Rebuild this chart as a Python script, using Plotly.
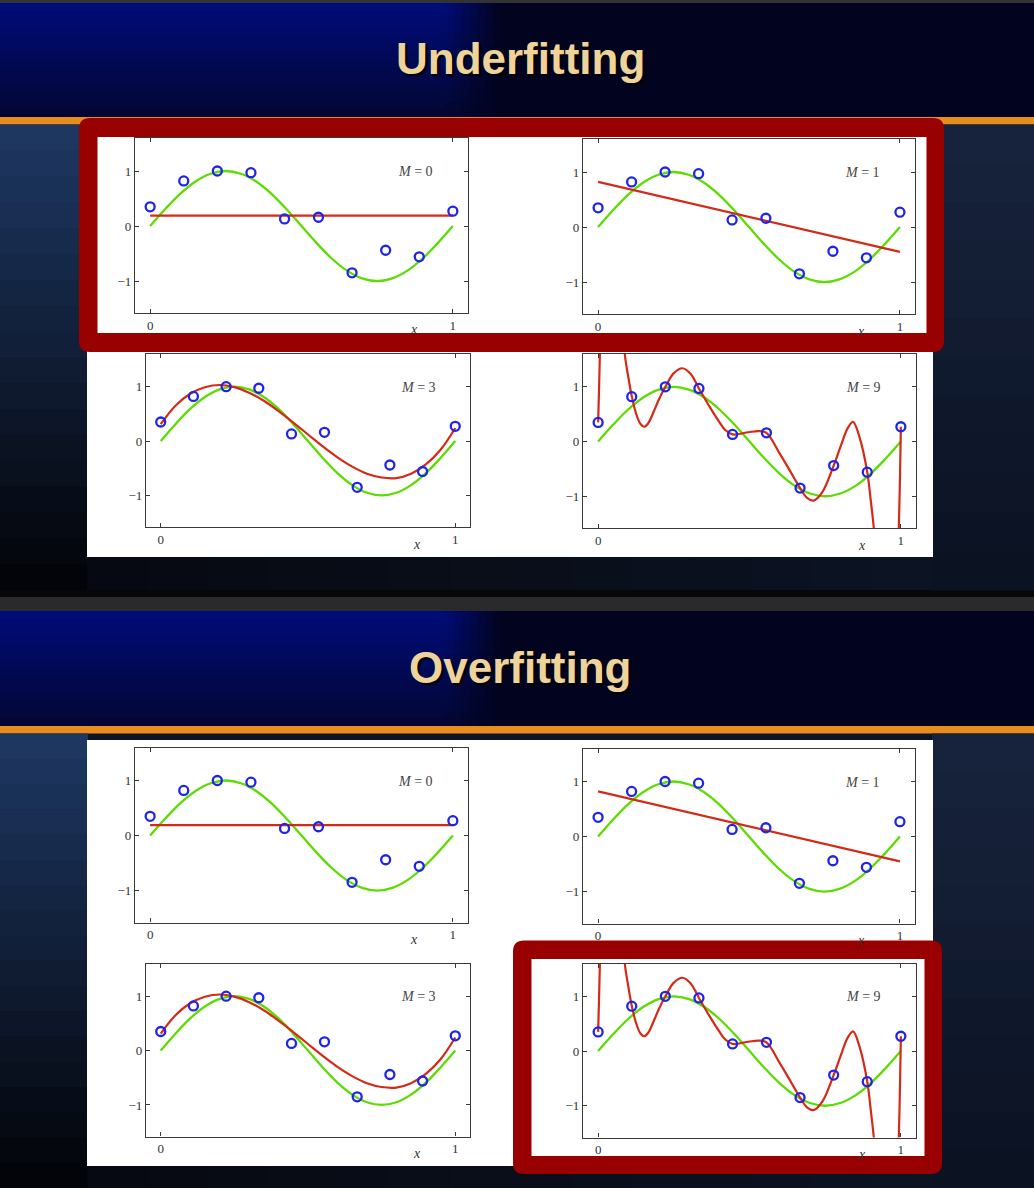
import plotly.graph_objects as go

W, H = 1034, 1188

# %% Data

# noisy observations (blue circles)
x_obs = [0.0, 0.111, 0.222, 0.333, 0.444, 0.556, 0.667, 0.778, 0.889, 1.0]
t_obs = [0.35, 0.82, 1.00, 0.97, 0.13, 0.16, -0.85, -0.44, -0.56, 0.27]

# underlying curve (green)
x_true = [0.0, 0.05, 0.1, 0.15, 0.2, 0.25, 0.3, 0.35, 0.4, 0.45, 0.5,
          0.55, 0.6, 0.65, 0.7, 0.75, 0.8, 0.85, 0.9, 0.95, 1.0]
t_true = [0.0, 0.31, 0.59, 0.81, 0.95, 1.0, 0.95, 0.81, 0.59, 0.31, 0.0,
          -0.31, -0.59, -0.81, -0.95, -1.0, -0.95, -0.81, -0.59, -0.31, 0.0]

# fitted polynomials (red)
x_m0 = [0.0, 1.0]
t_m0 = [0.19, 0.19]

x_m1 = [0.0, 1.0]
t_m1 = [0.82, -0.45]

x_m3 = x_true
t_m3 = [0.31, 0.65, 0.87, 0.99, 1.03, 0.99, 0.89, 0.74, 0.55, 0.34, 0.12,
        -0.10, -0.30, -0.47, -0.60, -0.67, -0.68, -0.60, -0.43, -0.16, 0.24]

x_m9 = [0.0, 0.003, 0.006, 0.012, 0.075, 0.089, 0.100, 0.111, 0.126, 0.140,
        0.152, 0.165, 0.183, 0.200, 0.222, 0.250, 0.278, 0.305, 0.333, 0.370,
        0.400, 0.420, 0.444, 0.496, 0.530, 0.556, 0.600, 0.630, 0.667, 0.690,
        0.712, 0.740, 0.778, 0.801, 0.824, 0.842, 0.865, 0.889, 0.900, 0.911,
        0.925, 0.985, 0.993, 1.0]
t_m9 = [0.35, 0.95, 1.65, 2.6, 2.6, 1.55, 1.17, 0.83, 0.50, 0.32,
        0.27, 0.33, 0.54, 0.76, 1.00, 1.25, 1.34, 1.24, 0.97, 0.62,
        0.36, 0.21, 0.13, 0.17, 0.19, 0.16, -0.22, -0.50, -0.85, -1.03,
        -1.08, -0.93, -0.44, -0.09, 0.24, 0.36, 0.05, -0.56, -1.05, -1.6,
        -2.6, -2.6, -1.6, 0.27]

m_labels = ['0', '1', '3', '9']
fits = [(x_m0, t_m0), (x_m1, t_m1), (x_m3, t_m3), (x_m9, t_m9)]
slide_titles = ['Underfitting', 'Overfitting']

# %% Helpers (pixel -> paper)

def px(x):
    return x / W

def py(y):
    return 1 - y / H

def mix(c0, c1, f):
    return 'rgb(%d,%d,%d)' % tuple(round(a + (b - a) * f) for a, b in zip(c0, c1))

def rect(x0, x1, y0, y1, color, layer='below'):
    return dict(type='rect', xref='paper', yref='paper', layer=layer,
                x0=px(x0), x1=px(x1), y0=py(y1), y1=py(y0),
                fillcolor=color, line_width=0)

def vbands(x0, x1, y0, y1, c0, c1, n):
    h = (y1 - y0) / n
    return [rect(x0, x1, y0 + i * h, y0 + (i + 1) * h + 0.6, mix(c0, c1, (i + 0.5) / n))
            for i in range(n)]

def hbands(x0, x1, y0, y1, c0, c1, n):
    w = (x1 - x0) / n
    return [rect(x0 + i * w, x0 + (i + 1) * w + 0.6, y0, y1, mix(c0, c1, (i + 0.5) / n))
            for i in range(n)]

def rrect_path(x0, x1, y0, y1, r):
    p = lambda x, y: '%.5f,%.5f' % (px(x), py(y))
    return ('M' + p(x0 + r, y0) + ' L' + p(x1 - r, y0) + ' Q' + p(x1, y0) + ' ' + p(x1, y0 + r)
            + ' L' + p(x1, y1 - r) + ' Q' + p(x1, y1) + ' ' + p(x1 - r, y1)
            + ' L' + p(x0 + r, y1) + ' Q' + p(x0, y1) + ' ' + p(x0, y1 - r)
            + ' L' + p(x0, y0 + r) + ' Q' + p(x0, y0) + ' ' + p(x0 + r, y0) + ' Z')

def ring(outer, inner, r=11, color='#990000'):
    path = rrect_path(*outer, r) + ' ' + rrect_path(*inner, 0.01)
    return dict(type='path', xref='paper', yref='paper', layer='above', path=path,
                fillcolor=color, fillrule='evenodd', line_width=0)

# %% Background

shapes = [rect(0, W, 0, H, '#0b1428')]
shapes.append(rect(0, W, 0, 3, '#333335'))
shapes.append(rect(0, W, 590, 611, '#070709'))
shapes.append(rect(0, W, 597, 611, '#2a2a2c'))

BAR = (2, 3, 30)
for oy in [0, 609]:
    top = 3 if oy == 0 else 611
    shapes.append(rect(0, W, top, oy + 117, mix(BAR, BAR, 0)))
    # blue glow top left
    glow_top, glow_bot = (0, 12, 122), (3, 6, 50)
    shapes += vbands(0, 445, top, oy + 117, glow_top, glow_bot, 14)
    for i in range(7):
        fx = 1 - (i + 0.5) / 7
        shapes += vbands(445 + i * 8, 445 + (i + 1) * 8 + 0.6, top, oy + 117,
                         tuple(b + (g - b) * fx for g, b in zip(glow_top, BAR)),
                         tuple(b + (g - b) * fx for g, b in zip(glow_bot, BAR)), 8)
    # orange rule
    shapes.append(rect(0, W, oy + 117, oy + 124.5, '#e88c1c'))
    # body
    end = 590 if oy == 0 else H
    pan_bot = 557 if oy == 0 else 1166
    shapes += vbands(0, 88, oy + 124.5, end, (30, 56, 100), (2, 3, 6), 18)
    shapes += vbands(932, W, oy + 124.5, end, (24, 36, 62), (10, 17, 32), 12)
    shapes += hbands(87, 933, pan_bot, end, (6, 9, 16), (12, 19, 35), 14)
    # white panel
    shapes.append(rect(87, 933, oy + 124.5 if oy == 0 else 740, pan_bot, 'white'))

# highlight boxes
shapes.append(ring((79, 944, 118, 352), (97.5, 926.5, 137, 333)))
shapes.append(ring((513, 942, 940.5, 1174), (531.5, 924.5, 959, 1156)))

# %% Subplots

frames = [(135, 468, 138, 313), (583, 915, 139, 314),
          (146, 470, 354, 527), (583, 916, 354, 528)]
slide_dy = [0, 609.5]

fig = go.Figure()
layout = {}
annotations = []
tick_font = dict(family='Liberation Serif', size=13, color='#333333')

n = 0
for s, dy in enumerate(slide_dy):
    for p, (fx0, fx1, fy0, fy1) in enumerate(frames):
        n += 1
        xa = 'x' if n == 1 else 'x%d' % n
        ya = 'y' if n == 1 else 'y%d' % n
        axis_common = dict(showgrid=False, zeroline=False, showline=True, mirror='ticks',
                           linecolor='#3a3a3a', linewidth=1.2, ticks='inside', ticklen=4,
                           tickcolor='#3a3a3a', tickfont=tick_font, fixedrange=True)
        layout['xaxis' if n == 1 else 'xaxis%d' % n] = dict(
            domain=[px(fx0), px(fx1)], range=[-0.05, 1.05], anchor=ya,
            tickvals=[0, 1], **axis_common)
        layout['yaxis' if n == 1 else 'yaxis%d' % n] = dict(
            domain=[py(fy1 + dy), py(fy0 + dy)], range=[-1.58, 1.6], anchor=xa,
            tickvals=[-1, 0, 1], **axis_common)

        xf, tf = fits[p]
        fig.add_trace(go.Scatter(x=x_true, y=t_true, mode='lines', xaxis=xa, yaxis=ya,
                                 line=dict(color='#5cdc00', width=2.3, shape='spline'),
                                 hoverinfo='skip'))
        fig.add_trace(go.Scatter(x=xf, y=tf, mode='lines', xaxis=xa, yaxis=ya,
                                 line=dict(color='#d42a18', width=2.2, shape='spline', smoothing=1),
                                 hoverinfo='skip'))
        fig.add_trace(go.Scatter(x=x_obs, y=t_obs, mode='markers', xaxis=xa, yaxis=ya,
                                 marker=dict(symbol='circle-open', size=9, color='#1f24e6',
                                             line=dict(width=2.3, color='#1f24e6'))))

        annotations.append(dict(xref=xa, yref=ya, x=0.875, y=0.99, showarrow=False,
                                xanchor='center', yanchor='middle',
                                text='<i>M</i> = ' + m_labels[p],
                                font=dict(family='Liberation Serif', size=14, color='#444444')))
        annotations.append(dict(xref=xa, yref=ya, x=-0.11, y=0.58, showarrow=False,
                                xanchor='center', yanchor='middle', text='<i>t</i>',
                                font=dict(family='Liberation Serif', size=14, color='#333333')))
        annotations.append(dict(xref=xa, yref=ya + ' domain', x=0.87, y=0, yshift=-17,
                                xanchor='center', yanchor='middle', showarrow=False,
                                text='<i>x</i>',
                                font=dict(family='Liberation Serif', size=14, color='#333333')))

# slide titles with a soft shadow
for s, title in enumerate(slide_titles):
    yc = 59 + 608.5 * s
    annotations.append(dict(xref='paper', yref='paper', x=px(520), y=py(yc),
                            xanchor='center', yanchor='middle',
                            showarrow=False, text='<b>%s</b>' % title,
                            font=dict(family='Liberation Sans', size=44, color='#eed39b',
                                      shadow='2px 2px 1px #000000')))

fig.update_layout(
    width=W, height=H,
    margin=dict(l=0, r=0, t=0, b=0),
    paper_bgcolor='#0b1428',
    plot_bgcolor='white',
    showlegend=False,
    shapes=shapes,
    annotations=annotations,
    **layout
    )

fig.write_html("out.html", config={'displayModeBar': False},
               post_script="document.body.style.margin='0';")
